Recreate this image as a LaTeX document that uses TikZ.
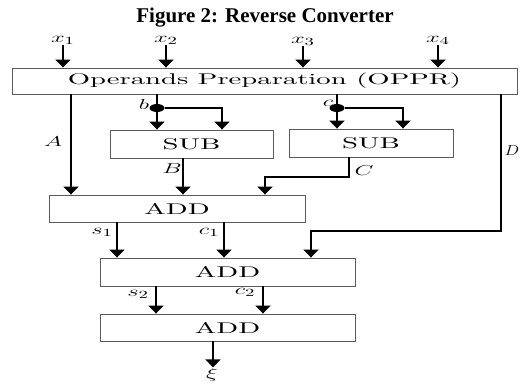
\documentclass[tikz,border=0pt]{standalone}
\usepackage{fontspec}
\usepackage{tikz}
\usetikzlibrary{arrows.meta,shapes.geometric}
\setmainfont{Liberation Serif}
\newfontfamily\boxfont[FakeStretch=1.85]{lmroman10-regular.otf}
\newcommand{\wl}[1]{\scalebox{1.7}[1]{#1}}
\definecolor{cEdge}{HTML}{5A5A5A}
\tikzset{
  box/.style={draw=cEdge, line width=0.9pt, inner sep=0pt,
              font=\boxfont\fontsize{15.5}{18}\selectfont},
  lbl/.style={font=\fontsize{15}{17}\selectfont, inner sep=1pt},
  arr/.style={-{Triangle[width=15pt,length=8pt]}, line width=2pt},
  wire/.style={line width=2pt},
  dot/.style={ellipse, fill=black, minimum width=15pt, minimum height=8pt, inner sep=0pt},
}

\begin{document}
\begin{tikzpicture}[x=1pt,y=-1pt]
  \useasboundingbox (0,0) rectangle (520,388);
  \node[anchor=base, font=\bfseries\fontsize{21}{24}\selectfont] (title) at (265,23) {Figure 2: Reverse Converter};
  % blocks
  \node[box, minimum width=505pt, minimum height=26pt] (oppr) at (264.5,81) {Operands Preparation (OPPR)};
  \node[box, minimum width=163pt, minimum height=28pt] (sub1) at (191.5,144) {SUB};
  \node[box, minimum width=164pt, minimum height=28pt] (sub2) at (371,143) {SUB};
  \node[box, minimum width=256pt, minimum height=27pt] (add1) at (177,208.5) {ADD};
  \node[box, minimum width=255pt, minimum height=28pt] (add2) at (227.5,272) {ADD};
  \node[box, minimum width=255pt, minimum height=27pt] (add3) at (227.5,327.5) {ADD};
  % inputs
  \node[lbl] (x1) at (63,40) {\wl{$x_1$}};
  \node[lbl] (x2) at (166,40) {\wl{$x_2$}};
  \node[lbl] (x3) at (303,41) {\wl{$x_3$}};
  \node[lbl] (x4) at (438,40) {\wl{$x_4$}};
  \foreach \i in {1,...,4}
    \draw[arr] (x\i.south) -- (x\i.south |- oppr.north);
  % split points
  \node[dot] (db) at (157,108) {};
  \node[dot] (dc) at (337,108) {};
  \coordinate (cA) at (71,0);
  \coordinate (cB) at (183,0);
  \coordinate (cC) at (349,0);
  \coordinate (kb) at (222,108);
  \coordinate (kc) at (403,108);
  \coordinate (kC) at (265,177);
  \coordinate (kD) at (501,231);
  \coordinate (cDin) at (311,0);
  \coordinate (cs1) at (117,0);
  \coordinate (cc1) at (224,0);
  \coordinate (cs2) at (156,0);
  \coordinate (cc2) at (263,0);
  \node[lbl] (xi) at (212,375) {\wl{$\xi$}};
  \coordinate (cXi) at (213,0);
  % connectors
  \draw[arr] (oppr.south -| cA) -- (add1.north -| cA);
  \draw[wire] (oppr.south -| db) -- (db);
  \draw[arr] (db) -- (db |- sub1.north);
  \draw[arr] (db) -- (kb) -- (kb |- sub1.north);
  \draw[wire] (oppr.south -| dc) -- (dc);
  \draw[arr] (dc) -- (dc |- sub2.north);
  \draw[arr] (dc) -- (kc) -- (kc |- sub2.north);
  \draw[arr] (sub1.south -| cB) -- (add1.north -| cB);
  \draw[arr] (sub2.south -| cC) |- (kC) -- (kC |- add1.north);
  \draw[arr] (oppr.south -| kD) -- (kD) -| (add2.north -| cDin);
  \draw[arr] (add1.south -| cs1) -- (add2.north -| cs1);
  \draw[arr] (add1.south -| cc1) -- (add2.north -| cc1);
  \draw[arr] (add2.south -| cs2) -- (add3.north -| cs2);
  \draw[arr] (add2.south -| cc2) -- (add3.north -| cc2);
  \draw[arr] (add3.south -| cXi) -- (xi.north -| cXi);
  % labels
  \node[lbl] (lA) at (53,142) {\wl{$A$}};
  \node[lbl] (lb) at (144,104) {\wl{$b$}};
  \node[lbl] (lc) at (328,103) {\wl{$c$}};
  \node[lbl] (lB) at (172,169) {\wl{$B$}};
  \node[lbl] (lC) at (364,171) {\wl{$C$}};
  \node[lbl] (lD) at (512,151) {\scalebox{1.2}[1]{$D$}};
  \node[lbl] (ls1) at (102,232) {\wl{$s_1$}};
  \node[lbl] (lc1) at (209,232) {\wl{$c_1$}};
  \node[lbl] (ls2) at (138,294) {\wl{$s_2$}};
  \node[lbl] (lc2) at (245,292) {\wl{$c_2$}};
\end{tikzpicture}
\end{document}
